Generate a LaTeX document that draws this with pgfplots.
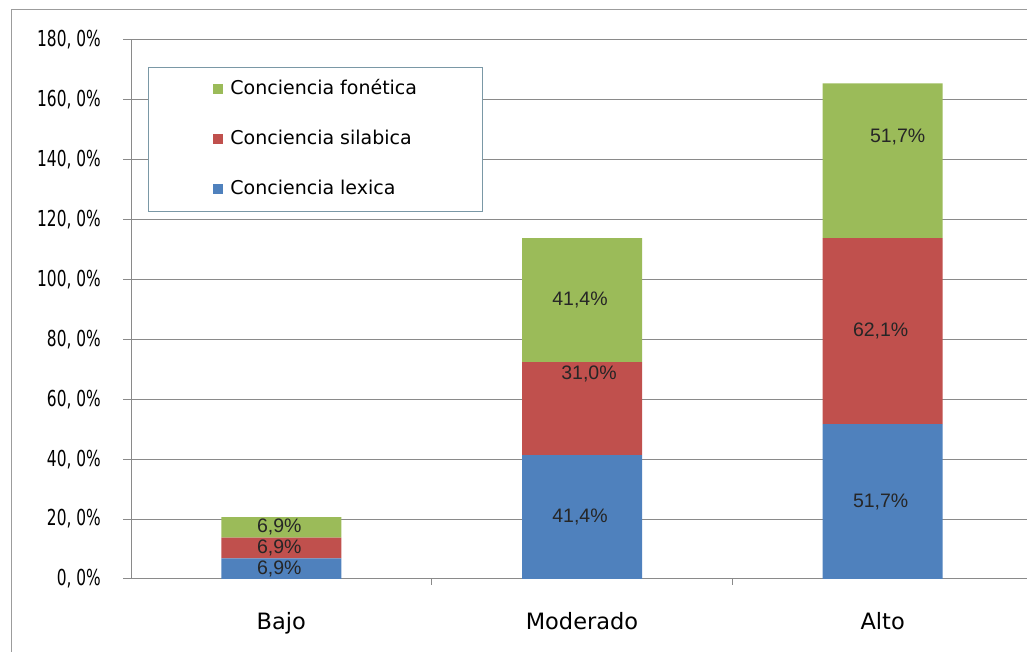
\documentclass[border=0pt]{standalone}
\usepackage{fontspec}
\setmainfont{DejaVu Sans}
\newfontfamily\arialfont{Liberation Sans}
\usepackage{pgfplots}
\usepackage{pgfplotstable}
\pgfplotsset{compat=1.18}

\definecolor{xlblue}{HTML}{4F81BD}
\definecolor{xlred}{HTML}{C0504D}
\definecolor{xlgreen}{HTML}{9BBB59}
\definecolor{gridgray}{HTML}{8A8A8A}
\definecolor{legborder}{HTML}{7A98A6}

% x: 0 Bajo, 1 Moderado, 2 Alto
\pgfplotstableread{
x y
0 6.9
1 41.4
2 51.7
}\lexica
\pgfplotstableread{
x y
0 6.9
1 31.0
2 62.1
}\silabica
\pgfplotstableread{
x y
0 6.9
1 41.4
2 51.7
}\fonetica

\newcommand{\yl}[1]{\scalebox{0.7}[1]{#1{,} 0\%}}

% labels sit mid-segment; #1/#2 = extra x/y nudge (pt), may use \coordindex
\pgfplotsset{
  seglabels/.style 2 args={
    point meta=explicit,
    nodes near coords={\pgfmathprintnumber[fixed,fixed zerofill,precision=1,use comma,assume math mode=true]{\pgfplotspointmeta}\%},
    every node near coord/.style={font=\arialfont\fontsize{19.5}{22}\selectfont, color=black!85, anchor=center, inner sep=0pt,
        yshift={(#2)*1pt}, xshift={(#1)*1pt}},
  }
}

\begin{document}
\begin{tikzpicture}[x=1pt,y=1pt]
\useasboundingbox (0,0) rectangle (1027,652);
\clip (0,0) rectangle (1027,652);
\draw[color=gridgray!85, line width=1pt] (11,-5) -- (11,642) -- (1040,642);
\begin{axis}[
    at={(131pt,73pt)}, anchor=south west,
    scale only axis,
    width=902pt, height=539pt,
    ybar stacked, bar width=120pt,
    xmin=-0.5, xmax=2.5,
    ymin=0, ymax=180,
    axis lines*=left,
    axis line style={gridgray, line width=1pt},
    xtick={0,1,2},
    xticklabels={Bajo,Moderado,Alto},
    x tick style={draw=none},
    extra x ticks={0.5,1.5},
    extra x tick labels={},
    extra x tick style={x tick style={draw=gridgray, line width=1pt}, major tick length=6pt, tick align=outside, grid=none},
    xticklabel style={font=\fontsize{22.5}{26}\selectfont, anchor=base, inner sep=0pt, yshift=-43pt},
    ytick={0,20,...,180},
    yticklabels={\yl{0},\yl{20},\yl{40},\yl{60},\yl{80},\yl{100},\yl{120},\yl{140},\yl{160},\yl{180}},
    yticklabel style={font=\fontsize{22}{24}\selectfont, anchor=east, inner sep=0pt, xshift=-22pt},
    y tick style={draw=gridgray, line width=1pt},
    tick align=outside,
    major tick length=8pt,
    ymajorgrids,
    grid style={gridgray, line width=1pt},
    reverse legend,
    legend image code/.code={\fill[#1] (0pt,-5pt) rectangle (10pt,5pt);},
    legend style={at={(rel axis cs:0.01876,0.9499)}, anchor=north west,
        draw=legborder, line width=1pt, fill=white,
        inner xsep=65pt, inner ysep=13pt, row sep=32pt, column sep=7pt,
        font=\fontsize{19}{22}\selectfont,
        nodes={inner sep=0pt, text height=14pt, text depth=4pt}},
    legend cell align=left,
]
\addplot[fill=xlblue, draw=none, seglabels={-2}{0}] table[x=x, y=y, meta=y] {\lexica};
\addlegendentry{Conciencia lexica}
\addplot[fill=xlred, draw=none, seglabels={-2+9*(\coordindex==1)}{35*(\coordindex==1)}] table[x=x, y=y, meta=y] {\silabica};
\addlegendentry{Conciencia silabica}
\addplot[fill=xlgreen, draw=none, seglabels={-2+17*(\coordindex==2)}{24*(\coordindex==2)}] table[x=x, y=y, meta=y] {\fonetica};
\addlegendentry{Conciencia fonética}
\end{axis}
\end{tikzpicture}
\end{document}
